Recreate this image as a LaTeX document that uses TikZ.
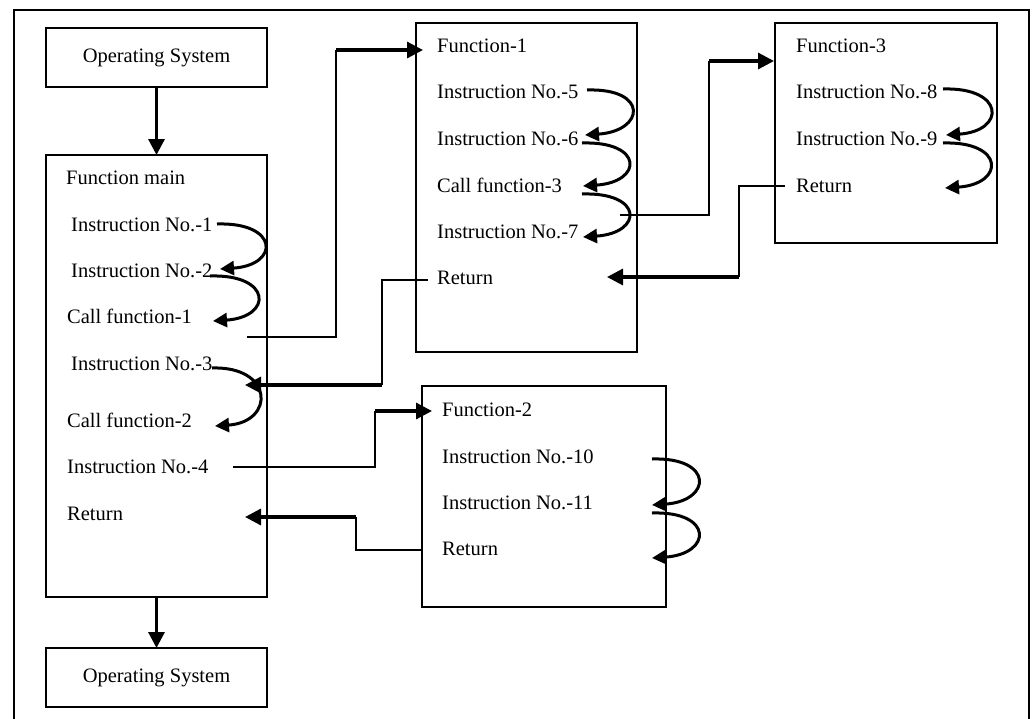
\documentclass[tikz,border=0pt]{standalone}
\usepackage{fontspec}
\setmainfont{Liberation Serif}
\usetikzlibrary{arrows.meta}

\begin{document}
\begin{tikzpicture}[x=1pt,y=-1pt,
  framebox/.style={line width=2.6pt},
  procbox/.style={draw,line width=1.6pt,inner sep=0pt,outer sep=0pt,
    font=\fontsize{20.5}{24}\selectfont},
  lbl/.style={anchor=base west,inner sep=0pt,font=\fontsize{20.5}{24}\selectfont},
  wire/.style={line width=1.4pt},
  thickarrow/.style={line width=3.2pt,-{Triangle[length=16pt,width=16pt]}},
  bendarrow/.style={line width=3pt,-{Triangle[length=14pt,width=14pt]}}]

\useasboundingbox (0,0) rectangle (1034,718);

% outer frame
\draw[framebox] (14,10) rectangle (1029,726);

% boxes
\node[procbox,anchor=north west,minimum width=221pt,minimum height=59pt] (os1) at (46,28) {Operating System};
\node[procbox,anchor=north west,minimum width=221pt,minimum height=442pt] (mainbox) at (46,155) {};
\node[procbox,anchor=north west,minimum width=221pt,minimum height=59pt] (os2) at (46,648) {Operating System};
\node[procbox,anchor=north west,minimum width=221pt,minimum height=329pt] (f1box) at (416,23) {};
\node[procbox,anchor=north west,minimum width=222pt,minimum height=220pt] (f3box) at (775,23) {};
\node[procbox,anchor=north west,minimum width=244pt,minimum height=221pt] (f2box) at (422,386) {};

% texts of function main
\node[lbl] (tmain) at (66,184) {Function main};
\node[lbl] (ti1) at (71,231) {Instruction No.-1};
\node[lbl] (ti2) at (71,277) {Instruction No.-2};
\node[lbl] (tcf1) at (67,323) {Call function-1};
\node[lbl] (ti3) at (71,370) {Instruction No.-3};
\node[lbl] (tcf2) at (67,427) {Call function-2};
\node[lbl] (ti4) at (67,473) {Instruction No.-4};
\node[lbl] (tret) at (67,520) {Return};

% texts of function-1
\node[lbl] (tf1) at (437,52) {Function-1};
\node[lbl] (ti5) at (437,98) {Instruction No.-5};
\node[lbl] (ti6) at (437,145) {Instruction No.-6};
\node[lbl] (tcf3) at (437,192) {Call function-3};
\node[lbl] (ti7) at (437,238) {Instruction No.-7};
\node[lbl] (tr1) at (437,284) {Return};

% texts of function-3
\node[lbl] (tf3) at (796,52) {Function-3};
\node[lbl] (ti8) at (796,98) {Instruction No.-8};
\node[lbl] (ti9) at (796,145) {Instruction No.-9};
\node[lbl] (tr3) at (796,192) {Return};

% texts of function-2
\node[lbl] (tf2) at (442,416) {Function-2};
\node[lbl] (ti10) at (442,463) {Instruction No.-10};
\node[lbl] (ti11) at (442,509) {Instruction No.-11};
\node[lbl] (tr2) at (442,555) {Return};

% flow between operating system and main
\draw[thickarrow] (os1) -- (mainbox);
\draw[thickarrow] (mainbox) -- (os2);

% step-to-step bends
\coordinate (b1s) at (217,224);  \coordinate (b1e) at (220,269);
\coordinate (b2s) at (210,276);  \coordinate (b2e) at (213,321);
\coordinate (b3s) at (212,368);  \coordinate (b3e) at (215,426);
\coordinate (b5s) at (587,90);   \coordinate (b5e) at (585,135);
\coordinate (b6s) at (582,143);  \coordinate (b6e) at (583,186);
\coordinate (b7s) at (582,194);  \coordinate (b7e) at (583,237);
\coordinate (b8s) at (943,89);   \coordinate (b8e) at (946,135);
\coordinate (b9s) at (943,143);  \coordinate (b9e) at (945,188);
\coordinate (b10s) at (652,459); \coordinate (b10e) at (652,505);
\coordinate (b11s) at (652,513); \coordinate (b11e) at (652,558);
\foreach \b in {1,2,3,5,6,7,8,9,10,11}
  \draw[bendarrow] (b\b s) .. controls +(62,-2) and +(60,-4) .. (b\b e);

% call function-1 and its return
\coordinate (c1a) at (247,337); \coordinate (c1b) at (336,50); \coordinate (c1c) at (423,50);
\draw[wire] (c1a) -| (c1b);
\draw[thickarrow] (c1b) -- (c1c);
\coordinate (r1a) at (428,280); \coordinate (r1b) at (382,385); \coordinate (r1c) at (245,385);
\draw[wire] (r1a) -| (r1b);
\draw[thickarrow] (r1b) -- (r1c);

% call function-3 and its return
\coordinate (c3a) at (620,215); \coordinate (c3b) at (709,61); \coordinate (c3c) at (774,61);
\draw[wire] (c3a) -| (c3b);
\draw[thickarrow] (c3b) -- (c3c);
\coordinate (r3a) at (785,186); \coordinate (r3b) at (739,277); \coordinate (r3c) at (607,277);
\draw[wire] (r3a) -| (r3b);
\draw[thickarrow] (r3b) -- (r3c);

% call function-2 and its return
\coordinate (c2a) at (233,467); \coordinate (c2b) at (375,411); \coordinate (c2c) at (432,411);
\draw[wire] (c2a) -| (c2b);
\draw[thickarrow] (c2b) -- (c2c);
\coordinate (r2a) at (f2box.west |- 0,550); \coordinate (r2b) at (356,517); \coordinate (r2c) at (245,517);
\draw[wire] (r2a) -| (r2b);
\draw[thickarrow] (r2b) -- (r2c);

\end{tikzpicture}
\end{document}
